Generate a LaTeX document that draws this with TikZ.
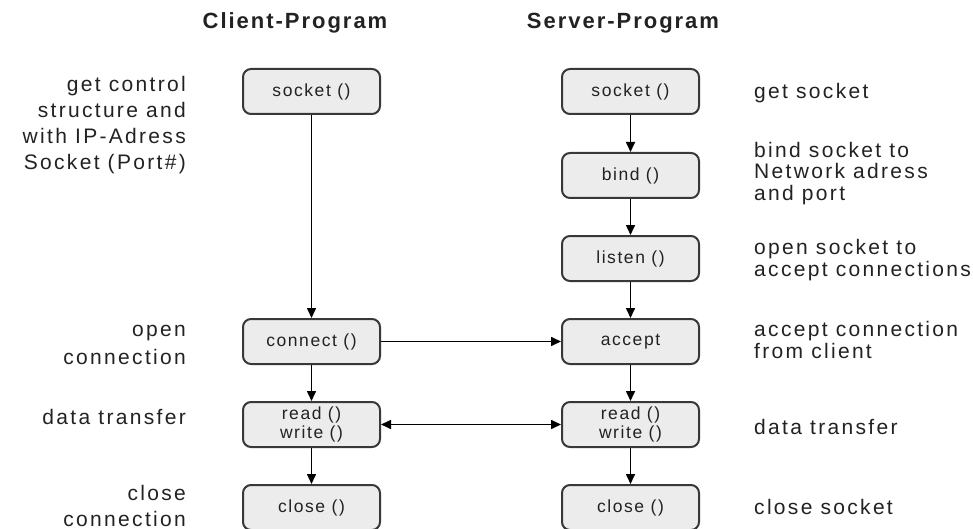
\documentclass[tikz,border=0pt]{standalone}
\usepackage{fontspec}
\setmainfont{Liberation Sans}
\newfontfamily\labelfont[LetterSpace=11]{Liberation Sans}
\newfontfamily\boxfont[LetterSpace=9]{Liberation Sans}
\newfontfamily\headfont[LetterSpace=9]{Liberation Sans}
\usetikzlibrary{arrows.meta}
\definecolor{boxfill}{HTML}{ECECEC}
\definecolor{boxline}{HTML}{383838}
\definecolor{ink}{HTML}{222222}

\begin{document}
\begin{tikzpicture}[x=1pt,y=-1pt,
  call/.style={draw=boxline, line width=2pt, fill=boxfill, rounded corners=8pt,
    minimum width=137pt, minimum height=45pt, inner sep=0pt, align=center,
    text=ink, font=\boxfont\fontsize{17.5}{19}\selectfont},
  flow/.style={-{Triangle[length=10pt,width=9pt]}, line width=1.6pt, draw=black},
  both/.style={{Triangle[length=10pt,width=9pt]}-{Triangle[length=10pt,width=9pt]},
    line width=1.6pt, draw=black},
  lnote/.style={anchor=east, align=right, text=ink, inner sep=0pt,
    font=\labelfont\fontsize{21}{26}\selectfont},
  rnote/.style={anchor=west, align=left, text=ink, inner sep=0pt,
    font=\labelfont\fontsize{21}{21.5}\selectfont},
  head/.style={anchor=base, text=ink, inner sep=0pt,
    font=\headfont\bfseries\fontsize{22}{24}\selectfont}
]
\useasboundingbox[fill=white] (0,0) rectangle (973,529);

% column headings
\node[head] (ctitle) at (295,29) {Client-Program};
\node[head] (stitle) at (623,29) {Server-Program};

% client calls
\node[call] (csock)  at (311.5,91.5)  {socket ()};
\node[call] (cconn)  at (311.5,341.5) {connect ()};
\node[call] (crw)    at (311.5,424.5) {read ()\\write ()};
\node[call] (cclose) at (311.5,507.5) {close ()};

% server calls
\node[call] (ssock)   at (630.5,91.5)  {socket ()};
\node[call] (sbind)   at (630.5,175.5) {bind ()};
\node[call] (slisten) at (630.5,258.5) {listen ()};
\node[call] (saccept) at (630.5,341.5) {accept};
\node[call] (srw)     at (630.5,424.5) {read ()\\write ()};
\node[call] (sclose)  at (630.5,507.5) {close ()};

% control flow
\draw[flow] (csock) -- (cconn);
\draw[flow] (cconn) -- (crw);
\draw[flow] (crw) -- (cclose);
\draw[flow] (ssock) -- (sbind);
\draw[flow] (sbind) -- (slisten);
\draw[flow] (slisten) -- (saccept);
\draw[flow] (saccept) -- (srw);
\draw[flow] (srw) -- (sclose);
\draw[flow] (cconn) -- (saccept);
\draw[both] (crw) -- (srw);

% client notes
\node[lnote] (n1) at (186,125) {get control\\structure and\\with IP-Adress\\Socket (Port\#)};
\node[lnote, font=\labelfont\fontsize{21}{28}\selectfont] (n2) at (186,345) {open\\connection};
\node[lnote] (n3) at (186,417) {data transfer};
\node[lnote] (n4) at (186,506) {close\\connection};

% server notes
\node[rnote] (m1) at (754,93)    {get socket};
\node[rnote] (m2) at (754,173.5) {bind socket to\\Network adress\\and port};
\node[rnote] (m3) at (754,260)   {open socket to\\accept connections};
\node[rnote] (m4) at (754,340)   {accept connection\\from client};
\node[rnote] (m5) at (754,427)   {data transfer};
\node[rnote] (m6) at (754,507)   {close socket};
\end{tikzpicture}
\end{document}
